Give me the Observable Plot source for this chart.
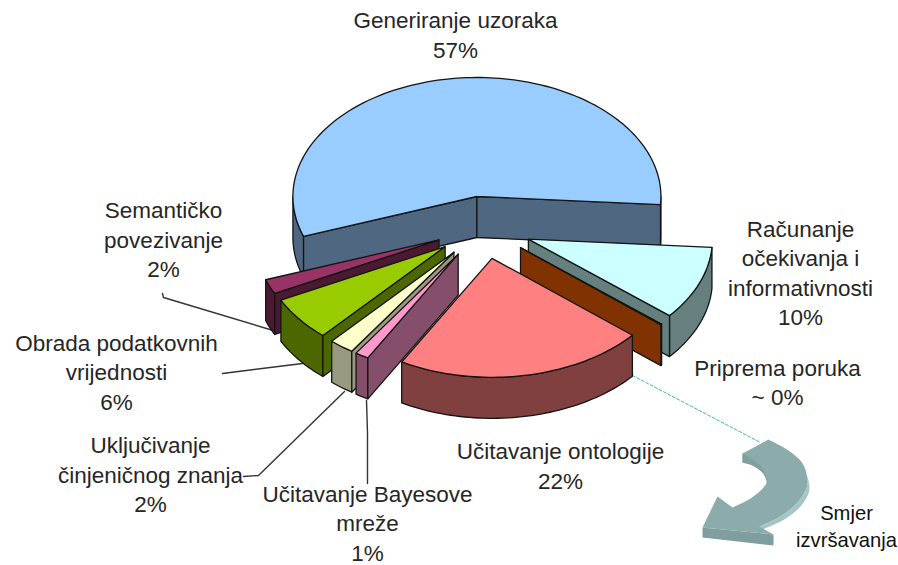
<!DOCTYPE html>
<html>
<head>
<meta charset="utf-8">
<style>html,body{margin:0;padding:0;background:#fff}svg{display:block}</style>
<script src="https://cdn.jsdelivr.net/npm/d3@7"></script>
<script src="https://cdn.jsdelivr.net/npm/@observablehq/plot@0.6"></script>
</head>
<body>
<div id="chart"></div>
<script>
// Chart data: shares in execution order (clockwise from the start angle)
const categories = ["Generiranje uzoraka","Računanje očekivanja i informativnosti","Priprema poruka","Učitavanje ontologije","Učitavanje Bayesove mreže","Uključivanje činjeničnog znanja","Obrada podatkovnih vrijednosti","Semantičko povezivanje"];
const shares = [56.6, 10, 0.1, 22, 1.2, 2.2, 6, 2];
const topColors = ["#99ccff","#ccffff","#993300","#ff8080","#ff99cc","#ffffcc","#99cc00","#993366"];
const wallColors = ["#4f6780","#668080","#803300","#804040","#854f6b","#999980","#4c6600","#4c1933"];
const paintOrder = [0,1,2,7,6,5,4,3];

// Labels
const labelTexts = ["Generiranje uzoraka\n57%","Računanje\nočekivanja i\ninformativnosti\n10%","Priprema poruka\n~ 0%","Učitavanje ontologije\n22%","Učitavanje Bayesove\nmreže\n1%","Uključivanje\nčinjeničnog znanja\n2%","Obrada podatkovnih\nvrijednosti\n6%","Semantičko\npovezivanje\n2%"];
const labelX = [455,800,777,560,367,150,116,163];
const labelY = [33,271,380.5,464,521.5,473,370.5,238];

// View geometry of the tilted pie
const startAngle = 250.4, cx = 483, cy = 227, rx = 184, ry = 119, depth = 41, explode = 0.263;

const rad = d => d * Math.PI / 180;
const onDisc = (phi, k, c) => [c[0] + k * rx * Math.sin(rad(phi)), c[1] - k * ry * Math.cos(rad(phi))];
const total = d3.sum(shares);
let acc = startAngle;
const slices = shares.map((s, i) => {
  const a0 = acc, a1 = acc + s / total * 360; acc = a1;
  return {i, a0, a1, apex: onDisc((a0 + a1) / 2, explode, [cx, cy])};
});
const close = p => [...p, p[0]];
const down = p => [p[0], p[1] + depth];

function arcPts(s, from, to) {
  const n = Math.max(1, Math.ceil((to - from) / 1.5)), out = [];
  for (let j = 0; j <= n; j++) out.push(onDisc(from + (to - from) * j / n, 1, s.apex));
  return out;
}
function polys(s) {
  const res = [], col = wallColors[s.i];
  // outer arc wall, on the near half of the disc (phi 90..270, modulo 360)
  for (const off of [0, 360]) {
    const from = Math.max(s.a0, 90 + off), to = Math.min(s.a1, 270 + off);
    if (to > from) {
      const a = arcPts(s, from, to);
      res.push({pts: close([...a, ...a.map(down).reverse()]), fill: col});
    }
  }
  const radial = phi => {
    const e = onDisc(phi, 1, s.apex);
    return close([s.apex, e, down(e), down(s.apex)]);
  };
  if (Math.sin(rad(s.a0)) < 0) res.push({pts: radial(s.a0), fill: col});
  if (Math.sin(rad(s.a1)) > 0) res.push({pts: radial(s.a1), fill: col});
  res.push({pts: close([s.apex, ...arcPts(s, s.a0, s.a1)]), fill: topColors[s.i]});
  return res;
}
const pieMarks = paintOrder.flatMap(i => polys(slices[i])).map(p =>
  Plot.line(p.pts, {x: d => d[0], y: d => d[1], fill: p.fill, stroke: "#141414", strokeWidth: 1.3, strokeLinejoin: "round"}));

// Leader lines
const leaders = [
  [[162,293],[163,297],[276,331]],
  [[222,373],[302,363]],
  [[243,476],[258,475],[344,391]],
  [[367,483],[367,433],[366,400]]
];
const leaderMarks = leaders.map(l => Plot.line(l, {x: d => d[0], y: d => d[1], stroke: "#333", strokeWidth: 1.4}));
const dashed = Plot.line([[632,375],[760,442]], {x: d => d[0], y: d => d[1], stroke: "#3fb5b5", strokeWidth: 1, strokeDasharray: "3,2"});

// Execution-direction arrow: outlines smoothed with a Catmull-Rom spline
function smooth(p, steps = 6) {
  const out = [];
  for (let i = 0; i < p.length - 1; i++) {
    const p0 = p[Math.max(i - 1, 0)], p1 = p[i], p2 = p[i + 1], p3 = p[Math.min(i + 2, p.length - 1)];
    for (let j = 0; j < steps; j++) {
      const t = j / steps, t2 = t * t, t3 = t2 * t;
      out.push([0, 1].map(k => 0.5 * (2 * p1[k] + (p2[k] - p0[k]) * t + (2 * p0[k] - 5 * p1[k] + 4 * p2[k] - p3[k]) * t2 + (3 * p1[k] - p0[k] - 3 * p2[k] + p3[k]) * t3)));
    }
  }
  out.push(p[p.length - 1]);
  return out;
}
const outerArc = smooth([[768,439],[788,450],[802,463],[807,480],[804,492],[794,505],[778,517],[759,526]]);
const innerArc = smooth([[732,507],[750,498],[763,487],[766,480],[762,472],[752,465],[742,462]]);
const innerTop = smooth([[742,453],[752,459],[762,468],[767,480]]);
const rimArc = smooth([[802,463],[808,480],[808,493],[798,508],[782,520],[762,529]]);
const arrowFace = [...outerArc, [773,534],[702,527],[717,496], ...innerArc, [742,453]];
const arrowSide = [[702,527],[702,537],[773,545],[773,534]];
const arrowRim = [...rimArc, ...outerArc.slice(12).reverse()];
const arrowInner = [...innerTop, ...smooth([[766,480],[762,472],[752,465],[742,462]])];
const shape = (p, fill) => Plot.line(close(p), {x: d => d[0], y: d => d[1], fill, stroke: "none"});

const chart = Plot.plot({
  width: 898, height: 565,
  margin: 0,
  x: {domain: [0, 898], range: [0, 898], axis: null},
  y: {domain: [0, 565], range: [0, 565], axis: null},
  style: {background: "#fff", fontFamily: "'Liberation Sans', Arial, sans-serif"},
  marks: [
    dashed,
    ...leaderMarks,
    ...pieMarks,
    shape(arrowRim, "#a6c6c6"),
    shape(arrowSide, "#7f9e9e"),
    shape(arrowFace, "#8cabab"),
    shape(arrowInner, "#7f9e9e"),
    Plot.text(labelTexts, {x: (d, i) => labelX[i], y: (d, i) => labelY[i], text: d => d, fontSize: 22.5, lineHeight: 1.31, fill: "#262626", textAnchor: "middle"}),
    Plot.text(["Smjer\nizvršavanja"], {x: [846], y: [524], text: d => d, fontSize: 20.2, lineHeight: 1.34, fill: "#111", textAnchor: "middle"})
  ]
});
document.getElementById("chart").append(chart);
</script>
</body>
</html>
